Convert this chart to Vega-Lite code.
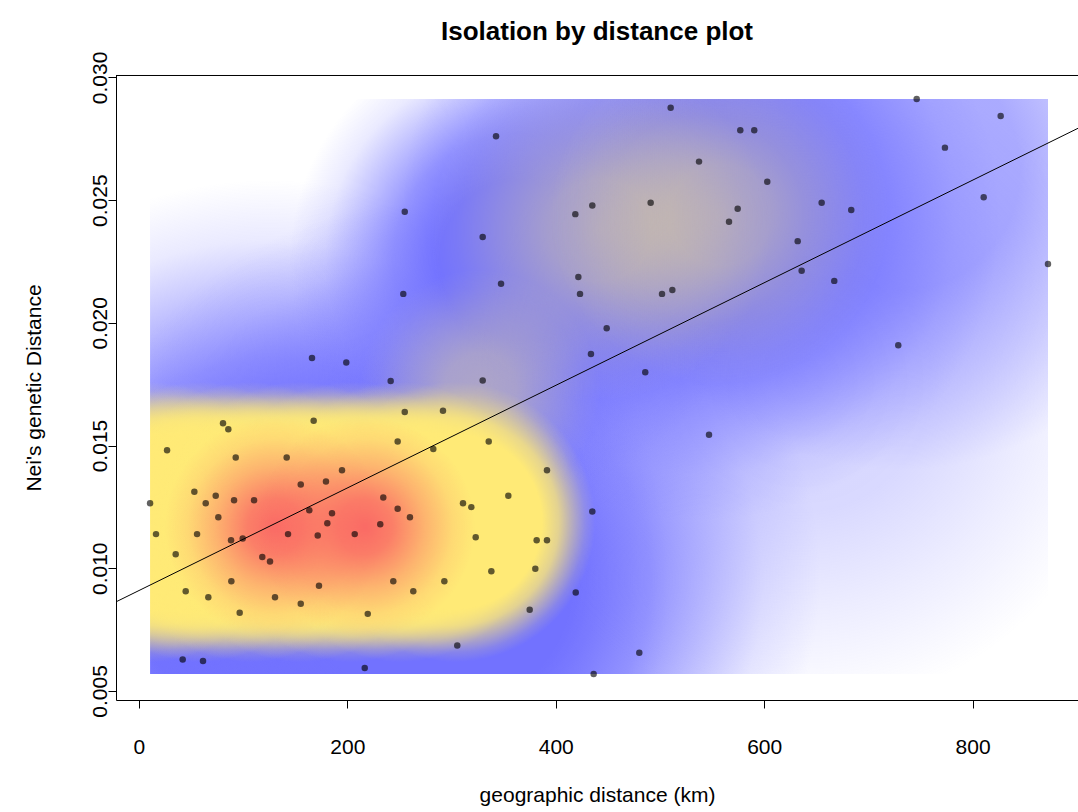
{
  "$schema": "https://vega.github.io/schema/vega-lite/v6.json",
  "width": 962,
  "height": 625,
  "autosize": {"type": "none"},
  "padding": {"left": 116, "top": 75, "right": 0, "bottom": 112},
  "background": "white",
  "config": {"view": {"stroke": null}, "font": "Liberation Sans"},
  "title": {
    "text": "Isolation by distance plot",
    "anchor": "middle",
    "frame": "group",
    "font": "Liberation Sans",
    "fontSize": 26,
    "fontWeight": "bold",
    "color": "black",
    "baseline": "alphabetic",
    "offset": 10,
    "dy": 25
  },
  "datasets": {
    "pairs": [
      {"km": 255.1, "nei": 0.02453}, {"km": 253.7, "nei": 0.02118}, {"km": 166.1, "nei": 0.01857}, {"km": 199.0, "nei": 0.01838}, {"km": 241.6, "nei": 0.01763},
      {"km": 510.3, "nei": 0.02877}, {"km": 577.1, "nei": 0.02785}, {"km": 590.5, "nei": 0.02785}, {"km": 342.7, "nei": 0.02760}, {"km": 537.5, "nei": 0.02657},
      {"km": 603.0, "nei": 0.02575}, {"km": 435.1, "nei": 0.02478}, {"km": 418.8, "nei": 0.02443}, {"km": 491.1, "nei": 0.02489}, {"km": 574.6, "nei": 0.02465},
      {"km": 566.3, "nei": 0.02412}, {"km": 329.9, "nei": 0.02350}, {"km": 347.5, "nei": 0.02159}, {"km": 421.7, "nei": 0.02187}, {"km": 423.3, "nei": 0.02118},
      {"km": 502.0, "nei": 0.02118}, {"km": 511.9, "nei": 0.02134}, {"km": 448.9, "nei": 0.01978}, {"km": 433.8, "nei": 0.01873}, {"km": 485.9, "nei": 0.01799},
      {"km": 329.9, "nei": 0.01765}, {"km": 746.4, "nei": 0.02912}, {"km": 827.0, "nei": 0.02843}, {"km": 773.5, "nei": 0.02714}, {"km": 655.2, "nei": 0.02489},
      {"km": 683.6, "nei": 0.02460}, {"km": 632.2, "nei": 0.02333}, {"km": 810.7, "nei": 0.02512}, {"km": 636.0, "nei": 0.02212}, {"km": 667.3, "nei": 0.02171},
      {"km": 872.4, "nei": 0.02240}, {"km": 728.7, "nei": 0.01909}, {"km": 80.7, "nei": 0.01591}, {"km": 85.8, "nei": 0.01566}, {"km": 167.7, "nei": 0.01601},
      {"km": 27.0, "nei": 0.01481}, {"km": 92.9, "nei": 0.01451}, {"km": 141.8, "nei": 0.01451}, {"km": 155.3, "nei": 0.01341}, {"km": 179.5, "nei": 0.01353},
      {"km": 53.2, "nei": 0.01312}, {"km": 73.7, "nei": 0.01295}, {"km": 64.1, "nei": 0.01265}, {"km": 91.3, "nei": 0.01277}, {"km": 110.5, "nei": 0.01277},
      {"km": 10.7, "nei": 0.01265}, {"km": 76.2, "nei": 0.01208}, {"km": 163.5, "nei": 0.01236}, {"km": 180.8, "nei": 0.01183}, {"km": 16.4, "nei": 0.01139},
      {"km": 55.8, "nei": 0.01139}, {"km": 88.4, "nei": 0.01114}, {"km": 99.6, "nei": 0.01121}, {"km": 143.1, "nei": 0.01139}, {"km": 171.6, "nei": 0.01133},
      {"km": 35.3, "nei": 0.01057}, {"km": 118.4, "nei": 0.01046}, {"km": 125.8, "nei": 0.01027}, {"km": 88.7, "nei": 0.00947}, {"km": 172.8, "nei": 0.00929},
      {"km": 44.9, "nei": 0.00906}, {"km": 66.6, "nei": 0.00882}, {"km": 130.6, "nei": 0.00882}, {"km": 155.3, "nei": 0.00855}, {"km": 96.7, "nei": 0.00819},
      {"km": 42.0, "nei": 0.00628}, {"km": 61.5, "nei": 0.00622}, {"km": 255.1, "nei": 0.01637}, {"km": 291.8, "nei": 0.01642}, {"km": 248.3, "nei": 0.01516},
      {"km": 282.5, "nei": 0.01486}, {"km": 335.7, "nei": 0.01516}, {"km": 194.9, "nei": 0.01399}, {"km": 234.5, "nei": 0.01288}, {"km": 248.3, "nei": 0.01242},
      {"km": 260.1, "nei": 0.01208}, {"km": 231.6, "nei": 0.01179}, {"km": 185.3, "nei": 0.01224}, {"km": 207.1, "nei": 0.01139}, {"km": 311.0, "nei": 0.01265},
      {"km": 319.0, "nei": 0.01249}, {"km": 354.5, "nei": 0.01295}, {"km": 323.2, "nei": 0.01126}, {"km": 381.7, "nei": 0.01114}, {"km": 338.2, "nei": 0.00988},
      {"km": 380.4, "nei": 0.00998}, {"km": 244.1, "nei": 0.00947}, {"km": 263.3, "nei": 0.00906}, {"km": 293.1, "nei": 0.00947}, {"km": 219.6, "nei": 0.00814},
      {"km": 375.0, "nei": 0.00831}, {"km": 305.5, "nei": 0.00685}, {"km": 216.7, "nei": 0.00593}, {"km": 547.1, "nei": 0.01544}, {"km": 391.6, "nei": 0.01399},
      {"km": 435.1, "nei": 0.01231}, {"km": 391.6, "nei": 0.01114}, {"km": 419.2, "nei": 0.00901}, {"km": 480.2, "nei": 0.00656}, {"km": 436.4, "nei": 0.00569}
    ],
    "kde_blue": [
      {"km_lo": -258.0, "km_hi": 509.6, "nei_lo": -0.006777, "nei_hi": 0.025823},
      {"km_lo": -75.7, "km_hi": 653.5, "nei_lo": -0.005962, "nei_hi": 0.025008},
      {"km_lo": 250.5, "km_hi": 826.3, "nei_lo": 0.011968, "nei_hi": 0.036418},
      {"km_lo": 145.0, "km_hi": 586.4, "nei_lo": 0.013191, "nei_hi": 0.031935}
    ],
    "kde_blue_outer": [
      {"km_lo": 442.4, "km_hi": 1018.2, "nei_lo": 0.014005, "nei_hi": 0.038455}
    ],
    "kde_blue_faint": [
      {"km_lo": 317.7, "km_hi": 951.1, "nei_lo": 0.004226, "nei_hi": 0.03112}
    ],
    "kde_mid": [
      {"km_lo": 279.4, "km_hi": 605.6, "nei_lo": 0.01684, "nei_hi": 0.030694},
      {"km_lo": 394.5, "km_hi": 720.7, "nei_lo": 0.01747, "nei_hi": 0.031324},
      {"km_lo": 212.1, "km_hi": 442.5, "nei_lo": 0.012376, "nei_hi": 0.022156}
    ],
    "kde_high": [
      {"km_lo": -123.6, "km_hi": 145.0, "nei_lo": 0.006182, "nei_hi": 0.017592},
      {"km_lo": -75.6, "km_hi": 193.0, "nei_lo": 0.006182, "nei_hi": 0.017592},
      {"km_lo": -27.6, "km_hi": 241.0, "nei_lo": 0.006182, "nei_hi": 0.017592},
      {"km_lo": 20.4, "km_hi": 289.0, "nei_lo": 0.006182, "nei_hi": 0.017592},
      {"km_lo": 68.4, "km_hi": 337.0, "nei_lo": 0.006182, "nei_hi": 0.017592},
      {"km_lo": 116.4, "km_hi": 385.0, "nei_lo": 0.006182, "nei_hi": 0.017592},
      {"km_lo": 169.2, "km_hi": 437.8, "nei_lo": 0.006182, "nei_hi": 0.017592}
    ],
    "kde_peak": [
      {"km_lo": 25.0, "km_hi": 236.2, "nei_lo": 0.007201, "nei_hi": 0.016165},
      {"km_lo": 111.4, "km_hi": 322.6, "nei_lo": 0.007201, "nei_hi": 0.016165}
    ]
  },
  "layer": [
    {
      "data": {"name": "kde_blue"},
      "mark": {
        "type": "rect",
        "clip": true,
        "fill": {
          "gradient": "radial", "x1": 0.5, "y1": 0.5, "r1": 0, "x2": 0.5, "y2": 0.5, "r2": 0.5,
          "stops": [
            {"offset": 0, "color": "rgba(114,114,255,1)"},
            {"offset": 0.35, "color": "rgba(114,114,255,1)"},
            {"offset": 0.55, "color": "rgba(114,114,255,0.75)"},
            {"offset": 0.7, "color": "rgba(114,114,255,0.45)"},
            {"offset": 0.85, "color": "rgba(114,114,255,0.15)"},
            {"offset": 1, "color": "rgba(114,114,255,0)"}
          ]
        }
      },
      "encoding": {
        "x": {"field": "km_lo", "type": "quantitative", "scale": {"domain": [-22, 901.2], "nice": false, "zero": false}},
        "x2": {"field": "km_hi"},
        "y": {"field": "nei_lo", "type": "quantitative", "scale": {"domain": [0.00463, 0.0301], "nice": false, "zero": false}},
        "y2": {"field": "nei_hi"}
      }
    },
    {
      "data": {"name": "kde_blue_outer"},
      "mark": {
        "type": "rect",
        "clip": true,
        "fill": {
          "gradient": "radial", "x1": 0.5, "y1": 0.5, "r1": 0, "x2": 0.5, "y2": 0.5, "r2": 0.5,
          "stops": [
            {"offset": 0, "color": "rgba(114,114,255,0.6)"},
            {"offset": 0.4, "color": "rgba(114,114,255,0.6)"},
            {"offset": 0.7, "color": "rgba(114,114,255,0.3)"},
            {"offset": 1, "color": "rgba(114,114,255,0)"}
          ]
        }
      },
      "encoding": {
        "x": {"field": "km_lo", "type": "quantitative"},
        "x2": {"field": "km_hi"},
        "y": {"field": "nei_lo", "type": "quantitative"},
        "y2": {"field": "nei_hi"}
      }
    },
    {
      "data": {"name": "kde_blue_faint"},
      "mark": {
        "type": "rect",
        "clip": true,
        "fill": {
          "gradient": "radial", "x1": 0.5, "y1": 0.5, "r1": 0, "x2": 0.5, "y2": 0.5, "r2": 0.5,
          "stops": [
            {"offset": 0, "color": "rgba(114,114,255,0.3)"},
            {"offset": 0.4, "color": "rgba(114,114,255,0.27)"},
            {"offset": 0.7, "color": "rgba(114,114,255,0.13)"},
            {"offset": 1, "color": "rgba(114,114,255,0)"}
          ]
        }
      },
      "encoding": {
        "x": {"field": "km_lo", "type": "quantitative"},
        "x2": {"field": "km_hi"},
        "y": {"field": "nei_lo", "type": "quantitative"},
        "y2": {"field": "nei_hi"}
      }
    },
    {
      "data": {"name": "kde_mid"},
      "mark": {
        "type": "rect",
        "clip": true,
        "fill": {
          "gradient": "radial", "x1": 0.5, "y1": 0.5, "r1": 0, "x2": 0.5, "y2": 0.5, "r2": 0.5,
          "stops": [
            {"offset": 0, "color": "rgba(255,234,118,0.4)"},
            {"offset": 0.3, "color": "rgba(255,234,118,0.36)"},
            {"offset": 0.6, "color": "rgba(255,234,118,0.2)"},
            {"offset": 0.85, "color": "rgba(255,234,118,0.06)"},
            {"offset": 1, "color": "rgba(255,234,118,0)"}
          ]
        }
      },
      "encoding": {
        "x": {"field": "km_lo", "type": "quantitative"},
        "x2": {"field": "km_hi"},
        "y": {"field": "nei_lo", "type": "quantitative"},
        "y2": {"field": "nei_hi"}
      }
    },
    {
      "data": {"name": "kde_high"},
      "mark": {
        "type": "rect",
        "clip": true,
        "fill": {
          "gradient": "radial", "x1": 0.5, "y1": 0.5, "r1": 0, "x2": 0.5, "y2": 0.5, "r2": 0.5,
          "stops": [
            {"offset": 0, "color": "rgba(255,234,118,1)"},
            {"offset": 0.62, "color": "rgba(255,234,118,1)"},
            {"offset": 0.74, "color": "rgba(255,234,118,0.8)"},
            {"offset": 0.84, "color": "rgba(255,234,118,0.45)"},
            {"offset": 0.93, "color": "rgba(255,234,118,0.15)"},
            {"offset": 1, "color": "rgba(255,234,118,0)"}
          ]
        }
      },
      "encoding": {
        "x": {"field": "km_lo", "type": "quantitative"},
        "x2": {"field": "km_hi"},
        "y": {"field": "nei_lo", "type": "quantitative"},
        "y2": {"field": "nei_hi"}
      }
    },
    {
      "data": {"name": "kde_peak"},
      "mark": {
        "type": "rect",
        "clip": true,
        "fill": {
          "gradient": "radial", "x1": 0.5, "y1": 0.5, "r1": 0, "x2": 0.5, "y2": 0.5, "r2": 0.5,
          "stops": [
            {"offset": 0, "color": "rgba(250,100,100,0.95)"},
            {"offset": 0.25, "color": "rgba(250,100,100,0.8)"},
            {"offset": 0.55, "color": "rgba(250,100,100,0.4)"},
            {"offset": 0.8, "color": "rgba(250,100,100,0.12)"},
            {"offset": 1, "color": "rgba(250,100,100,0)"}
          ]
        }
      },
      "encoding": {
        "x": {"field": "km_lo", "type": "quantitative"},
        "x2": {"field": "km_hi"},
        "y": {"field": "nei_lo", "type": "quantitative"},
        "y2": {"field": "nei_hi"}
      }
    },
    {
      "data": {"name": "pairs"},
      "transform": [{"aggregate": [{"op": "min", "field": "km", "as": "km_min"}]}],
      "mark": {"type": "rect", "fill": "white"},
      "encoding": {
        "x": {"field": "km_min", "type": "quantitative"},
        "x2": {"datum": -22}
      }
    },
    {
      "data": {"name": "pairs"},
      "transform": [{"aggregate": [{"op": "max", "field": "km", "as": "km_max"}]}],
      "mark": {"type": "rect", "fill": "white"},
      "encoding": {
        "x": {"field": "km_max", "type": "quantitative"},
        "x2": {"datum": 901.2}
      }
    },
    {
      "data": {"name": "pairs"},
      "transform": [{"aggregate": [{"op": "min", "field": "nei", "as": "nei_min"}]}],
      "mark": {"type": "rect", "fill": "white"},
      "encoding": {
        "y": {"field": "nei_min", "type": "quantitative"},
        "y2": {"datum": 0.00463}
      }
    },
    {
      "data": {"name": "pairs"},
      "transform": [{"aggregate": [{"op": "max", "field": "nei", "as": "nei_max"}]}],
      "mark": {"type": "rect", "fill": "white"},
      "encoding": {
        "y": {"field": "nei_max", "type": "quantitative"},
        "y2": {"datum": 0.0301}
      }
    },
    {
      "data": {"name": "pairs"},
      "transform": [{"aggregate": [{"op": "max", "field": "nei", "as": "nei_max"}]}],
      "mark": {"type": "rule", "color": "black", "strokeWidth": 1},
      "encoding": {
        "y": {"datum": 0.03008, "type": "quantitative"}
      }
    },
    {
      "data": {"name": "pairs"},
      "transform": [{"regression": "nei", "on": "km", "extent": [-22, 901.2]}],
      "mark": {"type": "line", "color": "black", "strokeWidth": 1, "clip": true},
      "encoding": {
        "x": {"field": "km", "type": "quantitative"},
        "y": {"field": "nei", "type": "quantitative"}
      }
    },
    {
      "data": {"name": "pairs"},
      "mark": {"type": "circle", "size": 42, "color": "black", "opacity": 0.62},
      "encoding": {
        "x": {
          "field": "km", "type": "quantitative",
          "scale": {"domain": [-22, 901.2], "nice": false, "zero": false},
          "axis": {
            "orient": "bottom",
            "zindex": 1,
            "title": "geographic distance (km)",
            "values": [0, 200, 400, 600, 800],
            "format": "d",
            "grid": false,
            "domainColor": "black", "domainWidth": 1,
            "tickColor": "black", "tickSize": 8, "tickWidth": 1,
            "labelColor": "black", "labelFont": "Liberation Sans", "labelFontSize": 21,
            "labelPadding": 28, "labelFlush": false, "labelOverlap": false,
            "titleColor": "black", "titleFont": "Liberation Sans", "titleFontSize": 21,
            "titleFontWeight": "normal", "titleBaseline": "alphabetic", "titleY": 101
          }
        },
        "y": {
          "field": "nei", "type": "quantitative",
          "scale": {"domain": [0.00463, 0.0301], "nice": false, "zero": false},
          "axis": {
            "orient": "left",
            "zindex": 1,
            "title": "Nei's genetic Distance",
            "values": [0.005, 0.01, 0.015, 0.02, 0.025, 0.03],
            "format": ".3f",
            "grid": false,
            "domainColor": "black", "domainWidth": 1,
            "tickColor": "black", "tickSize": 8, "tickWidth": 1,
            "labelColor": "black", "labelFont": "Liberation Sans", "labelFontSize": 21,
            "labelAngle": 270, "labelAlign": "center", "labelBaseline": "alphabetic",
            "labelPadding": 2, "labelFlush": false, "labelOverlap": false,
            "titleColor": "black", "titleFont": "Liberation Sans", "titleFontSize": 21,
            "titleFontWeight": "normal", "titleAngle": 270, "titleAlign": "center",
            "titleBaseline": "alphabetic", "titleX": -76, "titleY": 312.5
          }
        }
      }
    }
  ]
}
